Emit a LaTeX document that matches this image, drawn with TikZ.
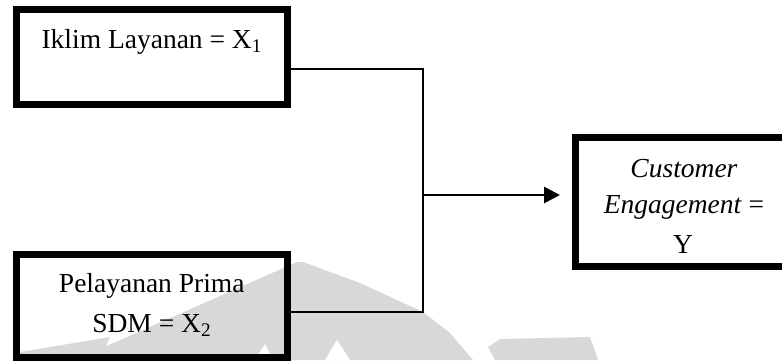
\documentclass[tikz,border=0pt]{standalone}
\usepackage{fontspec}
\setmainfont{Liberation Serif}
\usetikzlibrary{arrows.meta}
\definecolor{wm}{RGB}{216,216,216}
\begin{document}
\begin{tikzpicture}[x=1pt,y=-1pt,
  varbox/.style={draw=black,line width=7pt,rectangle,inner sep=0pt},
  label txt/.style={anchor=base,inner sep=0pt,font=\fontsize{27.5}{38}\selectfont},
  link/.style={draw=black,line width=2.7pt},
  arrowlink/.style={link,-{Triangle[length=16pt,width=16pt]},shorten >=12pt}]
  % page frame
  \useasboundingbox (0,0) rectangle (782,360);
  \clip (0,0) rectangle (782,360);

  % light watermark shapes in the background
  \fill[wm] (75,360) -- (297,262) -- (303,262) -- (360,283) -- (423,312)
            -- (450,333) -- (473,360) -- cycle;
  \fill[wm] (20,352) -- (110,337) -- (100,360) -- (20,360) -- cycle;
  \fill[wm] (488,347) -- (500,339) -- (590,337) -- (598,360) -- (495,360) -- cycle;
  \fill[white] (255,360) -- (265,344) -- (273,360) -- cycle;
  \fill[white] (325,360) -- (337,340) -- (350,360) -- cycle;

  % variable boxes
  \node[varbox,minimum width=270.5pt,minimum height=94.5pt] (x1) at (151.75,56.75) {};
  \node[varbox,minimum width=270.5pt,minimum height=103pt] (x2) at (151.75,306) {};
  \node[varbox,minimum width=230pt,minimum height=129pt] (y) at (690.5,201.5) {};

  % box texts
  \node[label txt] (x1t) at (151.75,48) {Iklim Layanan = X\textsubscript{1}};
  \node[label txt] (x2a) at (151.75,292) {Pelayanan Prima};
  \node[label txt] (x2b) at (151.75,332) {SDM = X\textsubscript{2}};
  \node[label txt] (ya) at (684,177) {\textit{Customer}};
  \node[label txt] (yb) at (684,213) {\textit{Engagement} =};
  \node[label txt] (yc) at (683,253) {Y};

  % junction points of the connector
  \coordinate (j1) at (423,69);
  \coordinate (j2) at (423,312);
  \coordinate (jm) at (423,195);

  \draw[link,line join=miter] (x1.east |- j1) -- (j1) -- (j2) -- (x2.east |- j2);
  \draw[arrowlink] (jm) -- (jm -| y.west);
\end{tikzpicture}
\end{document}
